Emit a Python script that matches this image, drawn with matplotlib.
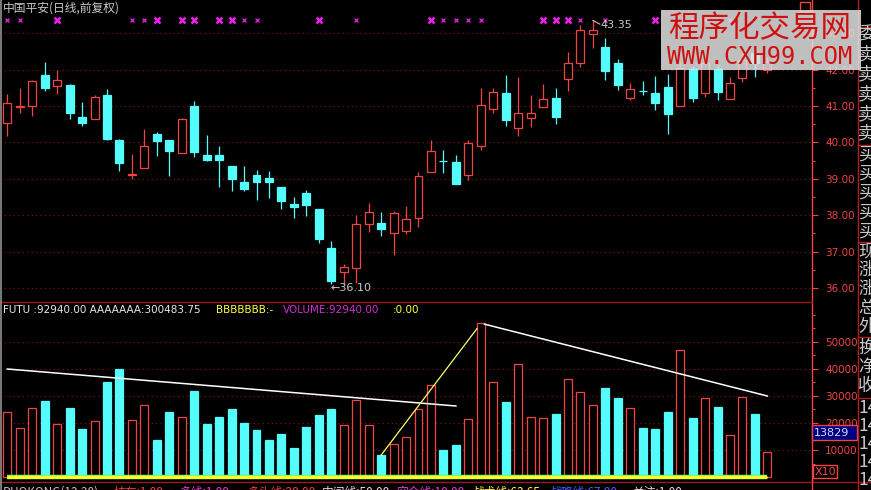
import matplotlib
matplotlib.use("Agg")
import matplotlib.pyplot as plt
from matplotlib.patches import Rectangle
from matplotlib.ticker import MultipleLocator, FixedLocator
from matplotlib.lines import Line2D
import numpy as np

W, H = 871, 490
RED = "#f04444"
CYAN = "#54fcfc"
GRID = "#8c1414"
GRAY = "#c8c8c8"
CJK = ["Noto Sans CJK SC", "DejaVu Sans"]

# daily candles
opens = [40.54, 40.98, 41.01, 41.85, 41.56, 41.58, 40.71, 40.65, 41.30, 40.07,
         39.10, 39.30, 40.23, 40.07, 39.72, 41.00, 39.65, 39.65, 39.35, 38.91,
         39.10, 39.02, 38.77, 38.32, 38.61, 38.17, 37.10, 36.45, 36.56, 37.75,
         37.79, 37.50, 37.56, 37.91, 39.20, 39.50, 39.46, 39.11, 39.91, 40.91,
         41.35, 40.40, 40.68, 40.98, 41.22, 41.73, 42.19, 42.99, 42.61, 42.17,
         41.21, 41.42, 41.35, 41.51, 41.00, 42.01, 41.35, 42.01, 41.19, 41.78,
         42.45, 42.00]
highs = [41.33, 41.49, 41.72, 42.21, 41.99, 41.60, 41.11, 41.30, 41.47, 40.09,
         39.68, 40.37, 40.29, 40.07, 40.67, 41.14, 40.20, 39.90, 39.35, 39.35,
         39.24, 39.21, 38.77, 38.50, 38.70, 38.17, 37.29, 36.65, 38.01, 38.34,
         38.09, 38.12, 38.25, 39.19, 40.07, 39.79, 39.65, 40.06, 41.50, 41.50,
         41.85, 41.80, 41.30, 41.60, 41.50, 42.49, 43.23, 43.35, 42.86, 42.28,
         41.64, 41.69, 41.82, 41.88, 42.20, 42.10, 42.32, 42.13, 41.80, 42.45,
         42.60, 42.35]
lows = [40.18, 40.81, 40.73, 41.42, 41.33, 40.63, 40.46, 40.65, 40.07, 39.22,
        39.00, 39.30, 39.63, 39.09, 39.72, 39.59, 39.50, 38.78, 38.67, 38.67,
        38.42, 38.48, 38.18, 37.93, 37.99, 37.24, 36.10, 36.12, 36.15, 37.55,
        37.44, 36.91, 37.48, 37.68, 39.18, 39.17, 38.85, 38.96, 39.79, 40.82,
        40.46, 40.18, 40.43, 40.98, 40.50, 41.42, 42.08, 42.60, 41.71, 41.44,
        41.16, 41.30, 40.89, 40.22, 41.00, 41.12, 41.26, 41.16, 41.19, 41.67,
        41.79, 41.90]
closes = [41.07, 41.00, 41.70, 41.49, 41.71, 40.82, 40.54, 41.24, 40.09, 39.43,
          39.12, 39.89, 40.05, 39.77, 40.64, 39.74, 39.52, 39.52, 39.00, 38.72,
          38.92, 38.91, 38.40, 38.23, 38.29, 37.35, 36.20, 36.59, 37.76, 38.08,
          37.63, 38.05, 37.90, 39.07, 39.76, 39.48, 38.87, 39.98, 41.03, 41.38,
          40.62, 40.80, 40.80, 41.20, 40.71, 42.19, 43.09, 43.09, 41.97, 41.58,
          41.46, 41.40, 41.08, 40.78, 42.04, 41.22, 42.17, 41.39, 41.62, 42.26,
          42.17, 42.22]
volumes = [23900, 18300, 25600, 28300, 19700, 25400, 17600, 20800, 35300, 40100,
           21200, 26700, 13600, 23900, 22300, 32000, 19500, 22400, 25000, 19900,
           17300, 13600, 15800, 10700, 18700, 22800, 25000, 19100, 28700, 19100,
           8100, 12400, 14700, 25000, 34200, 9900, 11800, 21600, 56900, 35300,
           27900, 41900, 22300, 21900, 23200, 36300, 31600, 26700, 33100, 29400,
           25700, 18100, 17800, 23900, 47000, 22000, 29400, 26100, 15400, 29700,
           23200, 9200]

# signal crosses on top of the price panel
sig_big = [4, 12, 14, 15, 17, 18, 25, 34, 43, 44, 45, 52]
sig_small = [0, 1, 10, 11, 19, 20, 28, 35, 36, 37, 38, 46, 48, 55, 56, 58]

# lines in the volume panel (bar index, volume)
white1_x, white1_v = [0, 36], [40000, 26300]
white2_x, white2_v = [38.3, 61], [56600, 30000]
yellow_x, yellow_v = [30, 37.7], [8100, 55000]

price_ticks = [36, 37, 38, 39, 40, 41, 42, 43]
vol_ticks = [10000, 20000, 30000, 40000, 50000]

side_labels = [("委", 34), ("卖", 54), ("卖", 74), ("卖", 94), ("卖", 114), ("卖", 133),
               ("买", 155), ("买", 174), ("买", 193), ("买", 213), ("买", 232),
               ("现", 252), ("涨", 270), ("涨", 289), ("总", 308), ("外", 327),
               ("换", 348), ("净", 367), ("收", 386),
               ("14", 408), ("14", 426), ("14", 444), ("14", 462), ("14", 480)]
side_lines = [27, 145, 242, 337, 398]

bottom_items = [("DUOKONG(12,20)", "#c0c0c0", 3), ("持有:1.00", RED, 114),
                ("多线:1.00", "#e040e0", 179), ("多头线:20.00", RED, 247),
                ("中间线:50.00", "#e0e0e0", 322), ("空仓线:10.00", "#e040e0", 396),
                ("战术线:63.65", "#ffff40", 472), ("战略线:67.00", "#4060ff", 549),
                ("关注:1.00", "#e0e0e0", 632)]


def rect(x0, y0, x1, y1):
    return [x0 / W, 1 - y1 / H, (x1 - x0) / W, (y1 - y0) / H]


def fx(px):
    return px / W


def fy(py):
    return 1 - py / H


fig = plt.figure(figsize=(W / 100, H / 100), dpi=100, facecolor="black")
ax = fig.add_axes(rect(0, 0, 812, 302))
axv = fig.add_axes(rect(0, 303, 812, 480))

n = len(opens)
x = np.arange(n)
o = np.array(opens)
c = np.array(closes)
up = c >= o
cols = [RED if u else CYAN for u in up]
faces = ["black" if u else CYAN for u in up]
bw = 0.64

for a in (ax, axv):
    a.set_facecolor("black")
    for s in ("left", "top", "bottom"):
        a.spines[s].set_visible(False)
    a.spines["right"].set_color(RED)
    a.spines["right"].set_linewidth(1.0)
    a.yaxis.tick_right()
    a.tick_params(axis="y", which="major", colors=RED, length=4.5, width=0.8,
                  labelsize=7.5, pad=5)
    a.tick_params(axis="y", which="minor", colors=RED, length=2.5, width=0.8)
    a.tick_params(axis="x", which="both", bottom=False, labelbottom=False)
    a.grid(axis="y", which="major", color=GRID, linestyle=(0, (1, 3)), linewidth=0.8)
    a.set_xlim(-0.586, 64.58)

# price panel
ax.set_ylim(35.615, 43.912)
ax.yaxis.set_major_locator(FixedLocator(price_ticks))
ax.yaxis.set_minor_locator(MultipleLocator(0.5))
ax.set_yticklabels([f"{t:.2f}" for t in price_ticks])

ax.vlines(x, lows, highs, colors=cols, linewidth=0.9, zorder=2)
for i in range(n):
    lo, hi = min(o[i], c[i]), max(o[i], c[i])
    ax.add_patch(Rectangle((i - bw / 2, lo), bw, max(hi - lo, 0.005),
                           facecolor=faces[i], edgecolor=cols[i], linewidth=0.9, zorder=3))

tr = ax.get_xaxis_transform()
ax.plot(sig_small, [0.934] * len(sig_small), "x", color="#d020d0", markersize=3.0,
        markeredgewidth=1.0, transform=tr)
ax.plot(sig_big, [0.934] * len(sig_big), "x", color="#f020f0", markersize=3.8,
        markeredgewidth=1.8, transform=tr)

lo_i = int(np.argmin(lows))
hi_i = int(np.argmax(highs))
ax.text(lo_i - 0.1, lows[lo_i] - 0.11, f"\u2190{lows[lo_i]:.2f}", color=GRAY,
        fontsize=8, ha="left", va="center", zorder=5)
ax.text(hi_i + 0.6, highs[hi_i] - 0.12, f"{highs[hi_i]:.2f}", color=GRAY,
        fontsize=8, ha="left", va="center", zorder=5)
ax.plot([hi_i, hi_i + 0.55], [highs[hi_i], highs[hi_i] - 0.1], color=GRAY, lw=0.8, zorder=5)

# volume panel
axv.set_ylim(-1111, 64444)
axv.yaxis.set_major_locator(FixedLocator(vol_ticks))
axv.yaxis.set_minor_locator(MultipleLocator(5000))
axv.set_yticklabels([str(t) for t in vol_ticks])
axv.bar(x, volumes, width=bw, color=faces, edgecolor=cols, linewidth=0.9, zorder=3)
axv.plot(white1_x, white1_v, color="white", lw=1.1, zorder=4)
axv.plot(white2_x, white2_v, color="white", lw=1.1, zorder=4)
axv.plot(yellow_x, yellow_v, color="#ffff60", lw=0.9, zorder=4)
axv.hlines(0, x[0], x[-1], color="#80ff60", lw=3.2, zorder=4)
axv.hlines(0, x[0], x[-1], color="#ffff20", lw=2.0, zorder=5)

# frame lines
fig.add_artist(Line2D([fx(0), fx(812)], [fy(302), fy(302)], color="#a01818", lw=1.0))
fig.add_artist(Line2D([fx(0), fx(871)], [fy(482), fy(482)], color="#a01818", lw=1.0))
fig.add_artist(Line2D([fx(812), fx(812)], [fy(480), fy(490)], color=RED, lw=1.0))
fig.add_artist(Line2D([fx(0.7), fx(0.7)], [0, 1], color="#909090", lw=1.2))
fig.add_artist(Line2D([fx(857.5), fx(857.5)], [0, 1], color="#b02020", lw=1.0))
for ly in side_lines:
    fig.add_artist(Line2D([fx(857.5), fx(871)], [fy(ly), fy(ly)], color="#b02020", lw=1.0))

for txt, ly in side_labels:
    fig.text(fx(858), fy(ly), txt, color=GRAY, fontsize=12.5, family=CJK, va="center", ha="left")

# value boxes at the volume axis
fig.add_artist(Rectangle((fx(812), fy(440)), 45 / W, 15 / H, transform=fig.transFigure,
                         facecolor="#000080", edgecolor=RED, lw=1.0))
fig.text(fx(814), fy(432.5), "13829", color="#d8d8ff", fontsize=8, va="center", ha="left")
fig.add_artist(Rectangle((fx(813), fy(478)), 24 / W, 13 / H, transform=fig.transFigure,
                         facecolor="black", edgecolor=RED, lw=1.0))
fig.text(fx(815), fy(471.5), "X10", color=RED, fontsize=8, va="center", ha="left")

# top-right stray box
fig.add_artist(Rectangle((fx(800), fy(11)), 10 / W, 9 / H, transform=fig.transFigure,
                         facecolor="none", edgecolor=RED, lw=1.0))

# title and indicator header
fig.text(fx(3), fy(8), "中国平安(日线,前复权)", color=GRAY, fontsize=8.5, family=CJK,
         va="center", ha="left")
fig.text(fx(3), fy(310), "FUTU :92940.00 AAAAAAA:300483.75", color="#e8e8e8",
         fontsize=7.5, va="center", ha="left")
fig.text(fx(216), fy(310), "BBBBBBB:-", color="#ffff40", fontsize=7.5, va="center", ha="left")
fig.text(fx(283), fy(310), "VOLUME:92940.00", color="#d030d0", fontsize=7.5,
         va="center", ha="left")
fig.text(fx(393), fy(310), ":0.00", color="#ffff40", fontsize=7.5, va="center", ha="left")

for txt, col, px in bottom_items:
    fig.text(fx(px), fy(485.5), txt, color=col, fontsize=8.5, family=CJK, va="top", ha="left")

# watermark
fig.add_artist(Rectangle((fx(661), fy(70)), 200 / W, 60 / H, transform=fig.transFigure,
                         facecolor="#e0e0e0", alpha=0.86, zorder=10))
fig.text(fx(760), fy(29), "程序化交易网", color="#d01010", fontsize=22, family=CJK,
         ha="center", va="center", zorder=11)
fig.text(fx(760), fy(57), "WWW.CXH99.COM", color="#d01010", fontsize=17,
         family="DejaVu Sans Mono", ha="center", va="center", zorder=11)

fig.savefig("out.png", dpi=100, facecolor="black")
